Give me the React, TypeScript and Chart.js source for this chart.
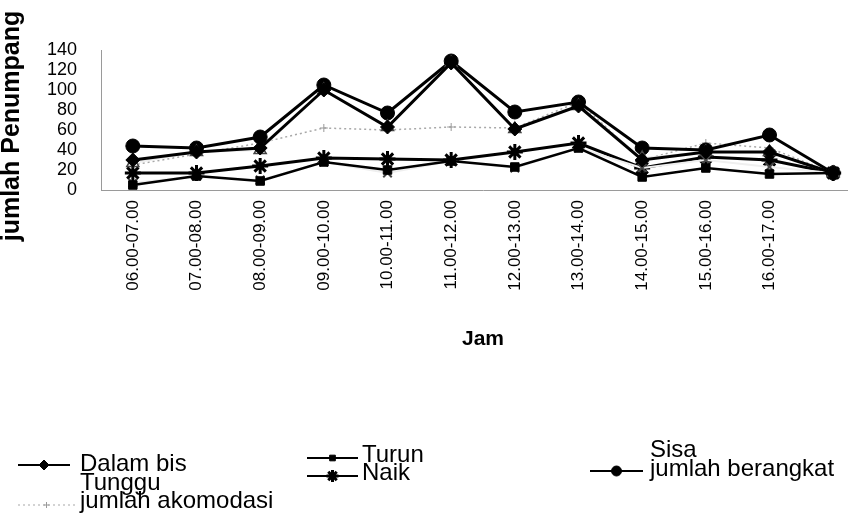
import React, { useEffect, useRef } from 'react';
import { Chart, registerables } from 'chart.js';
import { drawPoint } from 'chart.js/helpers';

Chart.register(...registerables);

// ---- data ----
const categories = [
  '06.00-07.00', '07.00-08.00', '08.00-09.00', '09.00-10.00', '10.00-11.00', '11.00-12.00',
  '12.00-13.00', '13.00-14.00', '14.00-15.00', '15.00-16.00', '16.00-17.00', '',
];
const yTicks = [0, 20, 40, 60, 80, 100, 120, 140];

const dalamBis = [30, 38, 42, 100, 63, 127, 61, 84, 30, 38, 38, 17];
const turun = [5, 14, 9, 28, 20, 29, 23, 42, 13, 22, 16, 17];
const sisa = [27, 38, 40, 100, 63, 127, 61, 84, 32, 38, 38, 17];
const tunggu = [7, 14, 10, 28, 17, 29, 22, 42, 22, 30, 23, 17];
const naik = [17, 17, 24, 32, 31, 30, 38, 47, 22, 33, 30, 17];
const jumlahBerangkat = [44, 42, 53, 105, 77, 129, 78, 88, 42, 40, 55, 17];
const jumlahAkomodasi = [25, 36, 47, 62, 60, 63, 62, 88, 30, 47, 42, 17];

const seriesNames = ['Dalam bis', 'Turun', 'Sisa', 'Tunggu', 'Naik', 'jumlah berangkat', 'jumlah akomodasi'];
const yTitle = 'jumlah Penumpang';
const xTitle = 'Jam';

const FONT = "'Liberation Sans', Arial, Helvetica, sans-serif";

// legend layout: [datasetIndex, symbolX1, symbolX2, symbolY, textX, textY, showSymbol]
const legendLayout: [number, number, number, number, number, number, boolean][] = [
  [0, 18, 70, 465, 80, 464, true],
  [3, 18, 70, 483, 80, 483, false],
  [6, 18, 75, 505, 80, 501, true],
  [1, 307, 358, 458, 362, 455, true],
  [4, 307, 358, 476, 362, 473, true],
  [2, 590, 643, 450, 650, 450, false],
  [5, 590, 643, 471, 650, 469, true],
];

const legendPlugin = {
  id: 'customLegend',
  afterDraw(chart: any) {
    const ctx = chart.ctx;
    ctx.save();
    // y-axis title
    ctx.save();
    ctx.translate(12, 126);
    ctx.rotate(-Math.PI / 2);
    ctx.fillStyle = '#000';
    ctx.font = `bold 25px ${FONT}`;
    ctx.textAlign = 'center';
    ctx.textBaseline = 'middle';
    ctx.fillText(yTitle, 0, 0);
    ctx.restore();

    legendLayout.forEach(([idx, x1, x2, sy, tx, ty, show]) => {
      const ds = chart.data.datasets[idx];
      if (show) {
        ctx.save();
        ctx.strokeStyle = ds.borderColor;
        ctx.lineWidth = idx === 6 ? 1.2 : 2;
        ctx.setLineDash(ds.borderDash || []);
        ctx.beginPath();
        ctx.moveTo(x1, sy);
        ctx.lineTo(x2, sy);
        ctx.stroke();
        ctx.setLineDash([]);
        ctx.fillStyle = ds.pointBackgroundColor;
        ctx.strokeStyle = ds.pointBorderColor;
        ctx.lineWidth = ds.pointBorderWidth;
        drawPoint(ctx, {
          pointStyle: ds.pointStyle,
          radius: Math.max(3, ds.pointRadius - 2),
          rotation: 0,
          borderWidth: ds.pointBorderWidth,
        } as any, (x1 + x2) / 2, sy);
        ctx.restore();
      }
      ctx.fillStyle = '#000';
      ctx.font = `24px ${FONT}`;
      ctx.textAlign = 'left';
      ctx.textBaseline = 'middle';
      ctx.fillText(ds.label, tx, ty);
    });
    ctx.restore();
  },
};

export default function App() {
  const ref = useRef<HTMLCanvasElement>(null);

  useEffect(() => {
    document.body.style.margin = '0';
    const canvas = ref.current;
    if (!canvas) return;
    const base = { fill: false, tension: 0 };
    const chart = new Chart(canvas, {
      type: 'line',
      data: {
        labels: categories,
        datasets: [
          {
            ...base, label: seriesNames[0], data: dalamBis,
            borderColor: '#000', borderWidth: 3,
            pointStyle: 'rectRot', pointRadius: 7,
            pointBackgroundColor: '#000', pointBorderColor: '#000', pointBorderWidth: 1,
          },
          {
            ...base, label: seriesNames[1], data: turun,
            borderColor: '#000', borderWidth: 2.5,
            pointStyle: 'rect', pointRadius: 6,
            pointBackgroundColor: '#000', pointBorderColor: '#000', pointBorderWidth: 1,
          },
          {
            ...base, label: seriesNames[2], data: sisa,
            borderColor: '#efefef', borderWidth: 2,
            pointStyle: 'triangle', pointRadius: 7,
            pointBackgroundColor: '#fff', pointBorderColor: '#444', pointBorderWidth: 1.5,
          },
          {
            ...base, label: seriesNames[3], data: tunggu,
            borderColor: '#efefef', borderWidth: 2,
            pointStyle: 'crossRot', pointRadius: 6,
            pointBackgroundColor: '#fff', pointBorderColor: '#444', pointBorderWidth: 2,
          },
          {
            ...base, label: seriesNames[4], data: naik,
            borderColor: '#000', borderWidth: 3,
            pointStyle: 'star', pointRadius: 8,
            pointBackgroundColor: '#000', pointBorderColor: '#000', pointBorderWidth: 3,
          },
          {
            ...base, label: seriesNames[5], data: jumlahBerangkat,
            borderColor: '#000', borderWidth: 3,
            pointStyle: 'circle', pointRadius: 7,
            pointBackgroundColor: '#000', pointBorderColor: '#000', pointBorderWidth: 1,
          },
          {
            ...base, label: seriesNames[6], data: jumlahAkomodasi,
            borderColor: '#a8a8a8', borderWidth: 1.5, borderDash: [2, 3],
            pointStyle: 'cross', pointRadius: 4,
            pointBackgroundColor: '#999', pointBorderColor: '#999', pointBorderWidth: 1,
          },
        ] as any,
      },
      options: {
        responsive: false,
        animation: false,
        layout: { padding: { top: 50, right: 2, bottom: 169, left: 0 } },
        plugins: {
          legend: { display: false },
          tooltip: { enabled: false },
        },
        scales: {
          x: {
            type: 'category',
            offset: true,
            grid: { display: false },
            border: { display: true, color: '#9a9a9a', dash: [1, 2], width: 1 },
            ticks: {
              autoSkip: false, minRotation: 90, maxRotation: 90, padding: 2,
              color: '#000', font: { family: FONT, size: 17 },
            },
            title: {
              display: true, text: xTitle, color: '#000',
              font: { family: FONT, size: 21, weight: 'bold' },
              padding: { top: 0, bottom: 0 },
            },
            afterFit: (s: any) => { s.height = 162; },
          },
          y: {
            min: 0, max: 140,
            afterBuildTicks: (s: any) => { s.ticks = yTicks.map((v) => ({ value: v })); },
            grid: { display: false },
            border: { display: true, color: '#9a9a9a', dash: [1, 3], width: 1 },
            ticks: { autoSkip: false, padding: 16, color: '#000', font: { family: FONT, size: 18 } },
            afterFit: (s: any) => { s.width = 101; },
          },
        },
      } as any,
      plugins: [legendPlugin],
    });
    return () => chart.destroy();
  }, []);

  return (
    <div style={{ width: 848, height: 521, overflow: 'hidden', background: '#fff' }}>
      <canvas ref={ref} width={876} height={521} style={{ display: 'block' }} />
    </div>
  );
}
